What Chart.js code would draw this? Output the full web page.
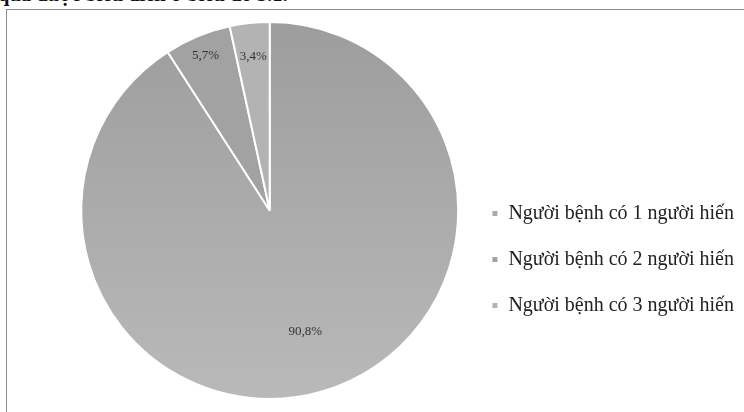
<!DOCTYPE html>
<html>
<head>
<meta charset="utf-8">
<script src="https://cdn.jsdelivr.net/npm/chart.js@4.4.1/dist/chart.umd.min.js"></script>
<style>
    html, body { margin: 0; padding: 0; background: #fff; overflow: hidden; }
    body { width: 744px; height: 412px; position: relative; }
    #caption {
        position: absolute; left: -2px; top: -17px; white-space: nowrap;
        font: bold 20.5px "Liberation Serif", serif; color: #111;
    }
    #frame {
        position: absolute; left: 6px; top: 9px; width: 760px; height: 420px;
        border: 1px solid #8c8c8c;
    }
    #wrap { position: absolute; left: 0; top: 0; width: 744px; height: 412px; }
</style>
</head>
<body>
<div id="caption">quả được biểu diễn ở biểu đồ 3.1.</div>
<div id="frame"></div>
<div id="wrap"><canvas id="pieChart"></canvas></div>
<script>
// Chart data
const labels = ['Người bệnh có 1 người hiến', 'Người bệnh có 2 người hiến', 'Người bệnh có 3 người hiến'];
const values = [90.8, 5.7, 3.4];

// slice colours (first slice gets a vertical gradient)
const sliceColors = ['#adadad', '#a2a2a2', '#b3b3b3'];
// how far out (fraction of radius) each value label sits
const labelRadius = [0.67, 0.89, 0.82];

function sliceColor(ctx) {
    const i = ctx.dataIndex;
    const area = ctx.chart.chartArea;
    if (i !== 0 || !area) return sliceColors[i];
    const g = ctx.chart.ctx.createLinearGradient(0, area.top, 0, area.bottom);
    g.addColorStop(0, '#9d9d9d');
    g.addColorStop(1, '#b9b9b9');
    return g;
}

// Draw value labels on the slices
const valueLabels = {
    id: 'valueLabels',
    afterDatasetsDraw(chart) {
        const ctx = chart.ctx;
        const meta = chart.getDatasetMeta(0);
        ctx.save();
        ctx.font = '13px "Liberation Serif", serif';
        ctx.fillStyle = '#333';
        ctx.textAlign = 'center';
        ctx.textBaseline = 'middle';
        meta.data.forEach((arc, i) => {
            const p = arc.getProps(['x', 'y', 'startAngle', 'endAngle', 'outerRadius']);
            const mid = (p.startAngle + p.endAngle) / 2;
            const r = p.outerRadius * labelRadius[i];
            const text = values[i].toFixed(1).replace('.', ',') + '%';
            ctx.fillText(text, p.x + Math.cos(mid) * r, p.y + Math.sin(mid) * r);
        });
        ctx.restore();
    }
};

const pieCtx = document.getElementById('pieChart').getContext('2d');
const pieChart = new Chart(pieCtx, {
    type: 'pie',
    data: {
        labels: labels,
        datasets: [{
            data: values,
            backgroundColor: sliceColor,
            borderColor: '#ffffff',
            borderWidth: 2
        }]
    },
    options: {
        responsive: true,
        maintainAspectRatio: false,
        animation: false,
        layout: {
            padding: { left: 74, top: 21, bottom: 12, right: 0 }
        },
        plugins: {
            tooltip: { enabled: false },
            legend: {
                position: 'right',
                // empty title only pushes the legend items a bit lower
                title: { display: true, text: '', font: { size: 10 }, padding: { top: 0, bottom: 86 } },
                labels: {
                    boxWidth: 7,
                    boxHeight: 7,
                    padding: 26,
                    color: '#222',
                    font: { family: '"Liberation Serif", serif', size: 20 }
                }
            }
        }
    },
    plugins: [valueLabels]
});
</script>
</body>
</html>
